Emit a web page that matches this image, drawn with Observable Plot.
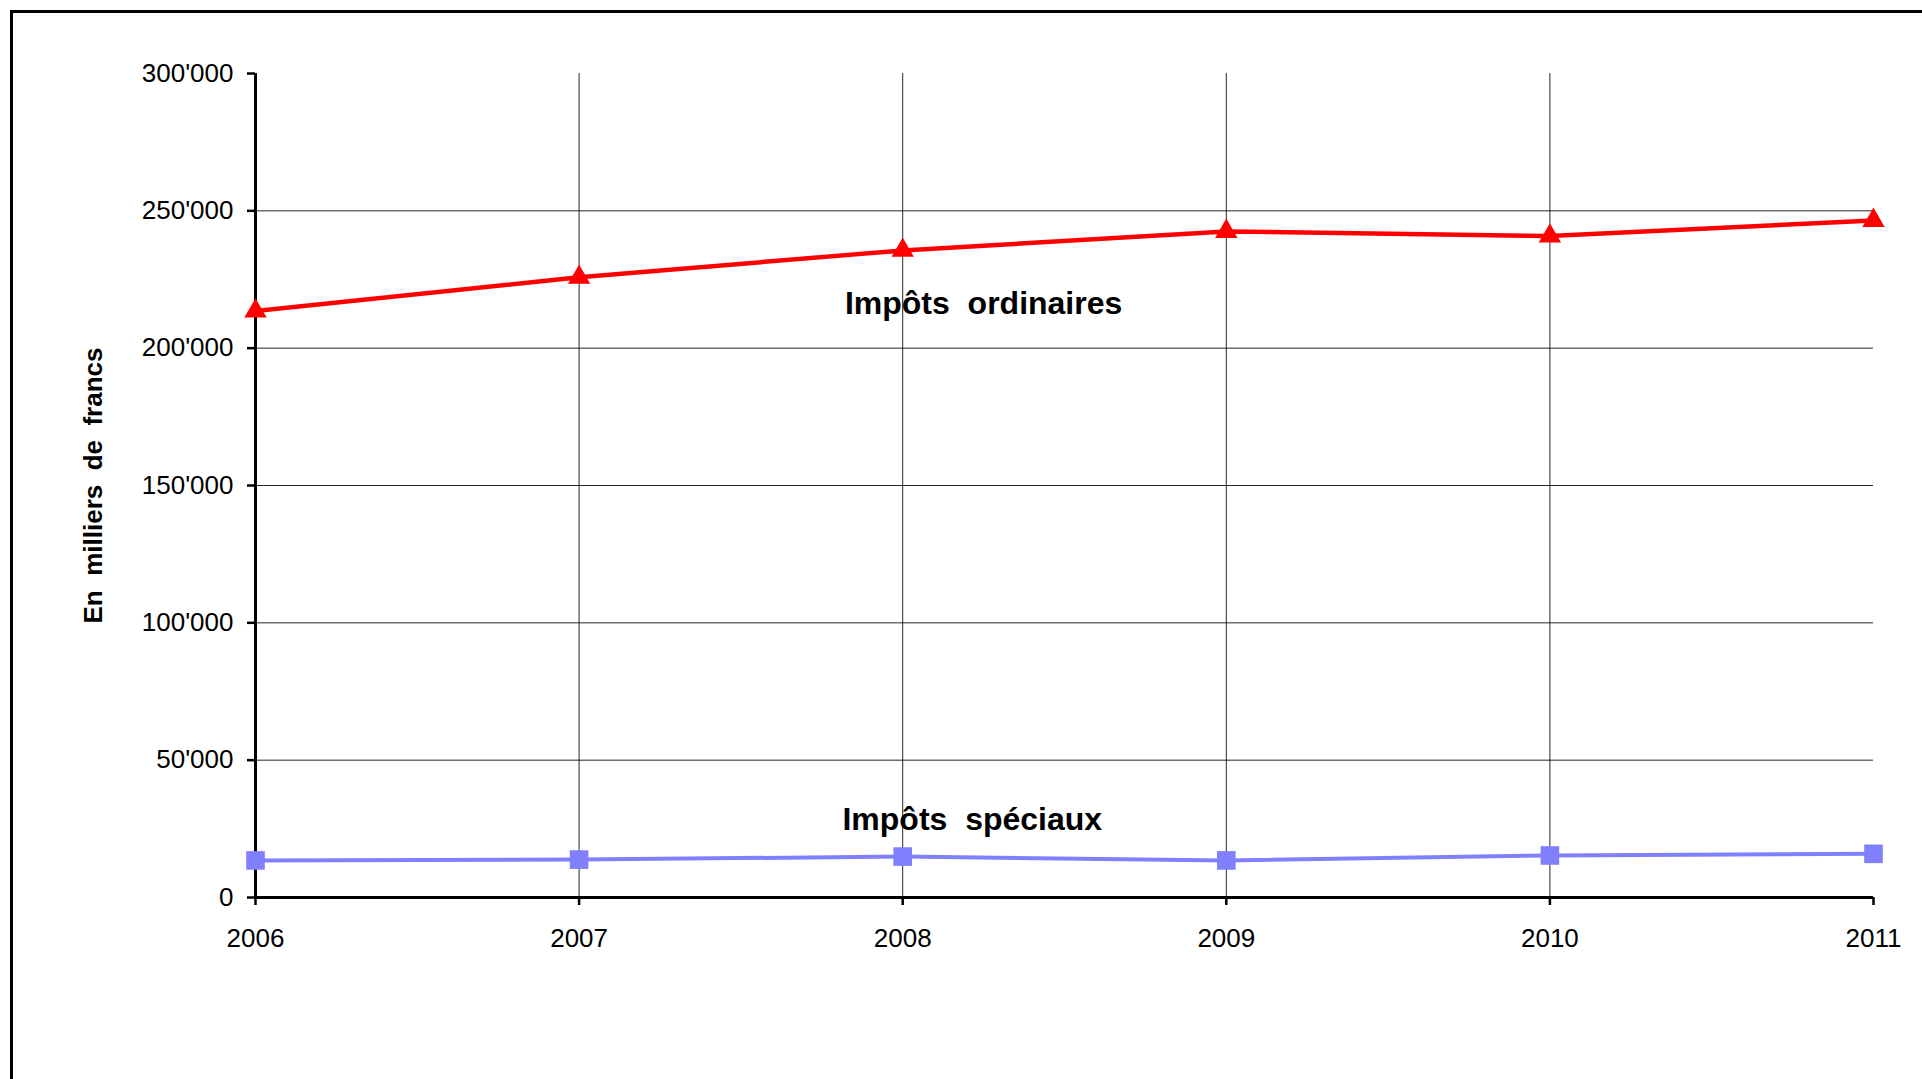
<!DOCTYPE html>
<html>
<head>
<meta charset="utf-8">
<script src="https://cdn.jsdelivr.net/npm/d3@7"></script>
<script src="https://cdn.jsdelivr.net/npm/@observablehq/plot@0.6"></script>
<style>
  html, body { margin: 0; padding: 0; background: #fff; overflow: hidden; }
  #chart { position: absolute; left: 0; top: 0; }
  #border { position: absolute; left: 10px; top: 10px; width: 2100px; height: 1300px; border: 3px solid #000; pointer-events: none; box-sizing: border-box; }
  svg text { white-space: pre; }
</style>
</head>
<body>
<div id="chart"></div>
<div id="border"></div>
<script>
// Data
const years = [2006, 2007, 2008, 2009, 2010, 2011];
const impotsOrdinaires = [213500, 225800, 235600, 242500, 240800, 246500];
const impotsSpeciaux = [13500, 13800, 14900, 13500, 15300, 15900];
const yTicks = [0, 50000, 100000, 150000, 200000, 250000, 300000];
const yGrid = [50000, 100000, 150000, 200000, 250000];
const xGrid = [2007, 2008, 2009, 2010];
const seriesNames = ["Impôts  ordinaires", "Impôts  spéciaux"];
const labelYears = [2008.25, 2008.215];
const labelValues = [212300, 24400];
const yTitle = "En  milliers  de  francs";

const ordData = years.map((y, i) => ({year: y, value: impotsOrdinaires[i]}));
const speData = years.map((y, i) => ({year: y, value: impotsSpeciaux[i]}));
const labelData = seriesNames.map((n, i) => ({name: n, year: labelYears[i], value: labelValues[i]}));

const fmt = d => d3.format(",")(d).replace(/,/g, "'");

const chart = Plot.plot({
  width: 1922,
  height: 1079,
  marginLeft: 255,
  marginRight: 49,
  marginTop: 73,
  marginBottom: 182,
  style: {fontFamily: "'Liberation Sans', Arial, sans-serif", fontSize: "26px", background: "transparent", color: "#000"},
  x: {domain: [2006, 2011]},
  y: {domain: [0, 300000]},
  marks: [
    Plot.gridY(yGrid, {stroke: "#000", strokeOpacity: 0.85, strokeWidth: 1}),
    Plot.gridX(xGrid, {stroke: "#000", strokeOpacity: 0.85, strokeWidth: 1}),
    Plot.axisY({ticks: yTicks, tickFormat: fmt, tickSize: 8, tickPadding: 14, fontSize: 26, strokeWidth: 2.5, label: null}),
    Plot.axisX({ticks: years, tickFormat: d => String(d), tickSize: 8, tickPadding: 23, fontSize: 26, strokeWidth: 2.5, label: null}),
    Plot.ruleX([2006], {stroke: "#000", strokeWidth: 3}),
    Plot.ruleY([0], {stroke: "#000", strokeWidth: 3}),
    Plot.text([yTitle], {frameAnchor: "left", textAnchor: "middle", dx: -162, rotate: -90, fontWeight: "bold", fontSize: 26, fill: "#000"}),
    Plot.line(ordData, {x: "year", y: "value", stroke: "#FF0000", strokeWidth: 4.5}),
    Plot.dot(ordData, {x: "year", y: "value", symbol: "triangle", r: 8.3, fill: "#FF0000", stroke: "none"}),
    Plot.line(speData, {x: "year", y: "value", stroke: "#8080FF", strokeWidth: 4}),
    Plot.dot(speData, {x: "year", y: "value", symbol: "square", r: 10.5, fill: "#8080FF", stroke: "none"}),
    Plot.text(labelData, {x: "year", y: "value", text: "name", textAnchor: "middle", lineAnchor: "bottom", fontWeight: "bold", fontSize: 32, fill: "#000"})
  ]
});
document.getElementById("chart").appendChild(chart);
</script>
</body>
</html>
